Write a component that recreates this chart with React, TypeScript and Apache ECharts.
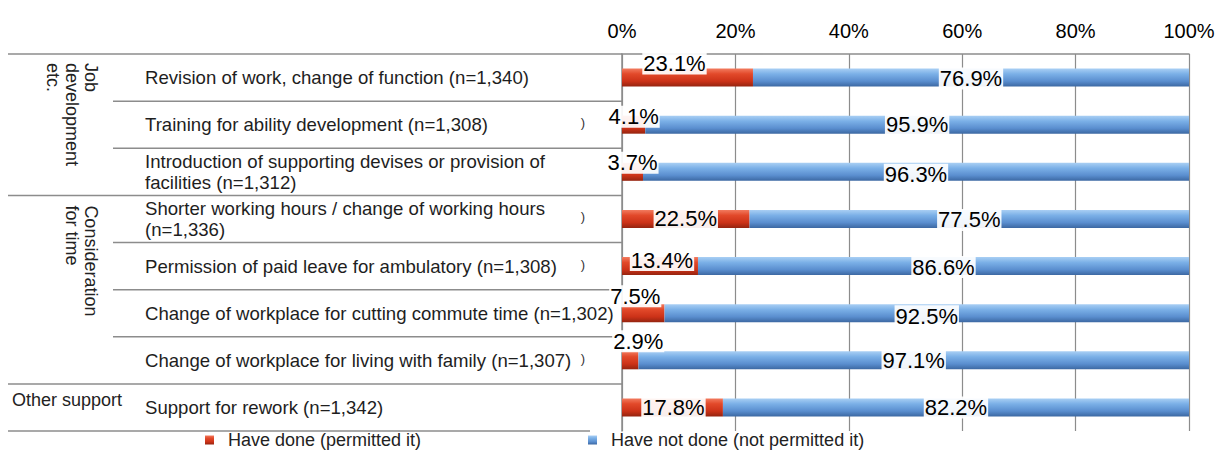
import React, { useEffect, useRef } from "react";
import * as echarts from "echarts";

const categories = [
  "Revision of work, change of function (n=1,340)",
  "Training for ability development (n=1,308)",
  "Introduction of supporting devises or provision of\nfacilities (n=1,312)",
  "Shorter working hours / change of working hours\n(n=1,336)",
  "Permission of paid leave for ambulatory (n=1,308)",
  "Change of workplace for cutting commute time (n=1,302)",
  "Change of workplace for living with family (n=1,307)",
  "Support for rework (n=1,342)",
];
const haveDone = [23.1, 4.1, 3.7, 22.5, 13.4, 7.5, 2.9, 17.8];
const haveNotDone = [76.9, 95.9, 96.3, 77.5, 86.6, 92.5, 97.1, 82.2];
const seriesNames = ["Have done (permitted it)", "Have not done (not permitted it)"];
const groupLabels = ["Job\ndevelopment\netc.", "Consideration\nfor time", "Other support"];

// label placement tweaks (px) for the data labels, as in the original
const doneLabelOffsets = [[-13, -14], [0, -8], [0, -9], [0, 0], [2, -6], [-8, -17], [8, -19], [1, 0]];
const notDoneLabelOffsets = [[0, 1], [0, 0], [0, 3], [0, 1], [0, 1], [0, 3], [0, 0], [0, 0]];

const FONT = "'Liberation Sans', Arial, sans-serif";
const GRID_L = 622, GRID_R = 1189, GRID_T = 54, GRID_B = 431;

export default function App() {
  const ref = useRef<HTMLDivElement>(null);
  useEffect(() => {
    if (!ref.current) return;
    const chart = echarts.init(ref.current, null, { renderer: "svg" });
    const band = (GRID_B - GRID_T) / categories.length;
    const yb = (k: number) => GRID_T + band * k;
    const lineStyle = { stroke: "#8c8c8c", lineWidth: 1.5 };
    const hline = (x1: number, x2: number, y: number) => ({
      type: "line", shape: { x1, y1: y, x2, y2: y }, style: lineStyle, silent: true,
    });
    const redGrad = new echarts.graphic.LinearGradient(0, 0, 0, 1, [
      { offset: 0, color: "#f27b5f" },
      { offset: 0.3, color: "#e2492a" },
      { offset: 0.7, color: "#cc3218" },
      { offset: 1, color: "#952410" },
    ]);
    const blueGrad = new echarts.graphic.LinearGradient(0, 0, 0, 1, [
      { offset: 0, color: "#a9cff4" },
      { offset: 0.3, color: "#7bb0e7" },
      { offset: 0.7, color: "#5a8ecf" },
      { offset: 1, color: "#3c68a2" },
    ]);
    const labelBase = {
      show: true,
      position: "inside",
      fontSize: 22,
      fontFamily: FONT,
      color: "#000",
      backgroundColor: "rgba(255,255,255,0.92)",
      padding: [0, 1],
      formatter: (p: any) => Number(p.value).toFixed(1) + "%",
    };
    const graphic: any[] = [
      hline(8, GRID_L, yb(0)),
      hline(113, GRID_L, yb(1)),
      hline(113, GRID_L, yb(2)),
      hline(8, GRID_L, yb(3)),
      hline(113, GRID_L, yb(4)),
      hline(113, GRID_L, yb(5)),
      hline(113, GRID_L, yb(6)),
      hline(8, GRID_L, yb(7)),
      hline(8, 590, yb(8)),
      {
        type: "text", x: 72, y: yb(0) + 9, rotation: -Math.PI / 2,
        style: { text: groupLabels[0], fontSize: 18, fontFamily: FONT, fill: "#222", align: "left", verticalAlign: "middle", lineHeight: 19 },
      },
      {
        type: "text", x: 81, y: yb(3) + 10, rotation: -Math.PI / 2,
        style: { text: groupLabels[1], fontSize: 18, fontFamily: FONT, fill: "#222", align: "left", verticalAlign: "middle", lineHeight: 19 },
      },
      {
        type: "text", x: 12, y: (yb(7) + yb(8)) / 2 - 7,
        style: { text: groupLabels[2], fontSize: 18, fontFamily: FONT, fill: "#222", align: "left", verticalAlign: "middle" },
      },
    ];
    [1, 3, 4, 6].forEach((k) => {
      graphic.push({
        type: "text", x: 583, y: yb(k) + band / 2 - 2,
        style: { text: ")", fontSize: 13, fontFamily: FONT, fill: "#333", align: "center", verticalAlign: "middle" },
      });
    });

    chart.setOption({
      animation: false,
      grid: {
        left: GRID_L, right: 1222 - GRID_R, top: GRID_T, bottom: 452 - GRID_B,
        containLabel: false, outerBoundsMode: "none",
      },
      xAxis: {
        type: "value", min: 0, max: 100, interval: 20, position: "top",
        axisLine: { show: true, lineStyle: { color: "#8c8c8c", width: 1.5 } },
        axisTick: { show: false },
        axisLabel: { formatter: "{value}%", fontSize: 20, fontFamily: FONT, color: "#000", margin: 13 },
        splitLine: { show: true, lineStyle: { color: "#8c8c8c", width: 1.2 } },
      },
      yAxis: {
        type: "category", inverse: true, data: categories,
        axisLine: { show: true, lineStyle: { color: "#8c8c8c", width: 1.5 } },
        axisTick: { show: false },
        axisLabel: {
          interval: 0, align: "left", margin: GRID_L - 145, fontSize: 18.6, fontFamily: FONT,
          color: "#1e1e1e", lineHeight: 21, padding: [0, 0, 6, 0],
        },
      },
      legend: [
        {
          data: [seriesNames[0]], left: 200, top: 426, icon: "rect", itemWidth: 9, itemHeight: 9,
          textStyle: { fontSize: 18, fontFamily: FONT, color: "#222", padding: [0, 0, 14, 9] },
        },
        {
          data: [seriesNames[1]], left: 583, top: 426, icon: "rect", itemWidth: 9, itemHeight: 9,
          textStyle: { fontSize: 18, fontFamily: FONT, color: "#222", padding: [0, 0, 14, 9] },
        },
      ],
      series: [
        {
          name: seriesNames[0], type: "bar", stack: "total", barWidth: 18,
          itemStyle: { color: redGrad },
          label: labelBase,
          data: haveDone.map((v, i) => ({ value: v, label: { offset: doneLabelOffsets[i] } })),
        },
        {
          name: seriesNames[1], type: "bar", stack: "total", barWidth: 18,
          itemStyle: { color: blueGrad },
          label: labelBase,
          data: haveNotDone.map((v, i) => ({ value: v, label: { offset: notDoneLabelOffsets[i] } })),
        },
      ],
      graphic,
    });
    return () => chart.dispose();
  }, []);
  return (
    <div
      ref={ref}
      style={{ position: "fixed", left: 0, top: 0, width: 1222, height: 452, background: "#fff" }}
    />
  );
}
